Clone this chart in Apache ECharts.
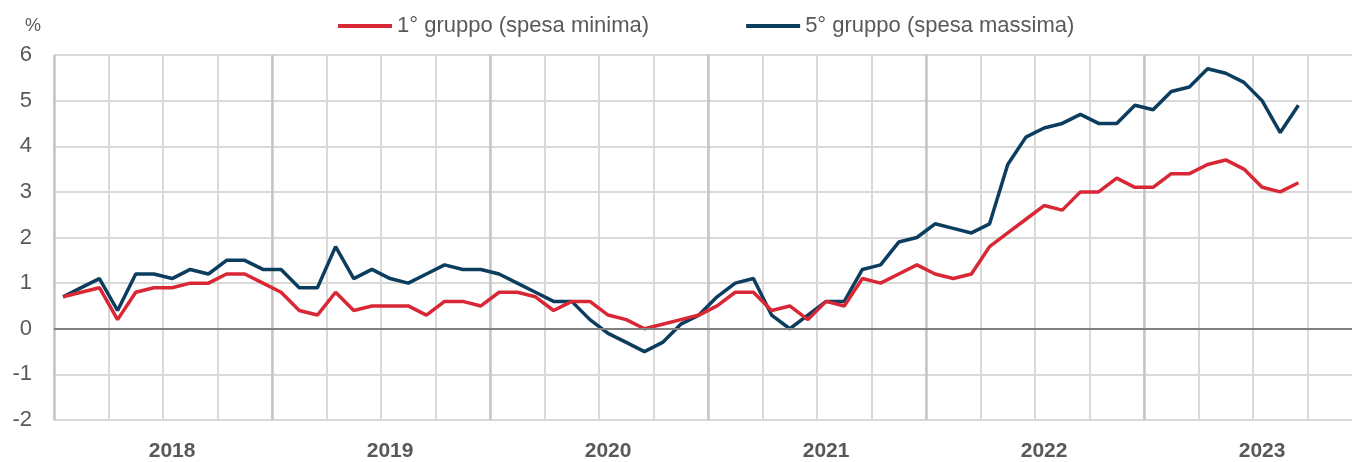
<!DOCTYPE html>
<html>
<head>
<meta charset="utf-8">
<script src="https://cdn.jsdelivr.net/npm/echarts@6/dist/echarts.min.js"></script>
<style>
html,body{margin:0;padding:0;background:#fff;}
#chart{width:1352px;height:462px;}
</style>
</head>
<body>
<div id="chart"></div>
<script>
// Years covered by the x axis (monthly categories, Jan 2018 - Dec 2023)
var years = ['2018', '2019', '2020', '2021', '2022', '2023'];
var months = ['01','02','03','04','05','06','07','08','09','10','11','12'];

// 1° gruppo (spesa minima), monthly, Jan 2018 - Sep 2023
var group1 = [
  0.7, 0.8, 0.9, 0.2, 0.8, 0.9, 0.9, 1.0, 1.0, 1.2, 1.2, 1.0,
  0.8, 0.4, 0.3, 0.8, 0.4, 0.5, 0.5, 0.5, 0.3, 0.6, 0.6, 0.5,
  0.8, 0.8, 0.7, 0.4, 0.6, 0.6, 0.3, 0.2, 0.0, 0.1, 0.2, 0.3,
  0.5, 0.8, 0.8, 0.4, 0.5, 0.2, 0.6, 0.5, 1.1, 1.0, 1.2, 1.4,
  1.2, 1.1, 1.2, 1.8, 2.1, 2.4, 2.7, 2.6, 3.0, 3.0, 3.3, 3.1,
  3.1, 3.4, 3.4, 3.6, 3.7, 3.5, 3.1, 3.0, 3.2
];
// 5° gruppo (spesa massima)
var group5 = [
  0.7, 0.9, 1.1, 0.4, 1.2, 1.2, 1.1, 1.3, 1.2, 1.5, 1.5, 1.3,
  1.3, 0.9, 0.9, 1.8, 1.1, 1.3, 1.1, 1.0, 1.2, 1.4, 1.3, 1.3,
  1.2, 1.0, 0.8, 0.6, 0.6, 0.2, -0.1, -0.3, -0.5, -0.3, 0.1, 0.3,
  0.7, 1.0, 1.1, 0.3, 0.0, 0.3, 0.6, 0.6, 1.3, 1.4, 1.9, 2.0,
  2.3, 2.2, 2.1, 2.3, 3.6, 4.2, 4.4, 4.5, 4.7, 4.5, 4.5, 4.9,
  4.8, 5.2, 5.3, 5.7, 5.6, 5.4, 5.0, 4.3, 4.9
];
var seriesNames = ['1° gruppo (spesa minima)', '5° gruppo (spesa massima)'];
var yTicks = { min: -2, max: 6, step: 1 };

var categories = [];
years.forEach(function (y) { months.forEach(function (m) { categories.push(y + '-' + m); }); });

var txt = '#595959';
var ff = '"Liberation Sans", Arial, sans-serif';
var chart = echarts.init(document.getElementById('chart'));
chart.setOption({
  animation: false,
  backgroundColor: '#fff',
  textStyle: { fontFamily: ff },
  legend: {
    top: 10, left: 333,
    itemWidth: 54, itemHeight: 4, itemGap: 97,
    icon: 'rect',
    textStyle: { color: txt, fontSize: 22, fontFamily: ff },
    data: seriesNames
  },
  graphic: [{
    type: 'text', left: 25, top: 17,
    style: { text: '%', fill: txt, fontSize: 18, fontFamily: ff }
  }],
  grid: { left: 54, width: 1308, top: 55, bottom: 42, outerBoundsMode: 'none', containLabel: false },
  xAxis: [{
    type: 'category', data: categories, boundaryGap: true,
    axisLine: { show: false }, axisTick: { show: false },
    axisLabel: {
      interval: function (i) { return i % 12 === 6; },
      formatter: function (v) { return v.slice(0, 4); },
      color: txt, fontSize: 21, fontWeight: 'bold', margin: 21
    },
    splitLine: { show: true, interval: function (i) { return i % 3 === 0; }, lineStyle: { color: '#d9d9d9', width: 2 } }
  }, {
    type: 'category', data: categories, boundaryGap: true, position: 'bottom',
    axisLine: { show: false }, axisTick: { show: false }, axisLabel: { show: false },
    splitLine: { show: true, interval: function (i) { return i % 12 === 0; }, lineStyle: { color: '#c6c6c6', width: 2.5 } }
  }],
  yAxis: {
    type: 'value', min: yTicks.min, max: yTicks.max, interval: yTicks.step,
    axisLine: { show: false }, axisTick: { show: false },
    axisLabel: { color: txt, fontSize: 22, margin: 22 },
    splitLine: { lineStyle: { color: '#d9d9d9', width: 2 } }
  },
  series: [{
    name: seriesNames[0], type: 'line', data: group1, showSymbol: false, symbol: 'none',
    itemStyle: { color: '#d92835' }, lineStyle: { color: '#d92835', width: 3.5 },
    markLine: {
      silent: true, symbol: 'none', label: { show: false },
      lineStyle: { color: '#808080', width: 2, type: 'solid' },
      data: [{ yAxis: 0 }]
    },
    z: 3
  }, {
    name: seriesNames[1], type: 'line', data: group5, showSymbol: false, symbol: 'none',
    itemStyle: { color: '#0c3d5e' }, lineStyle: { color: '#0c3d5e', width: 3.5 },
    z: 2
  }]
});
</script>
</body>
</html>
